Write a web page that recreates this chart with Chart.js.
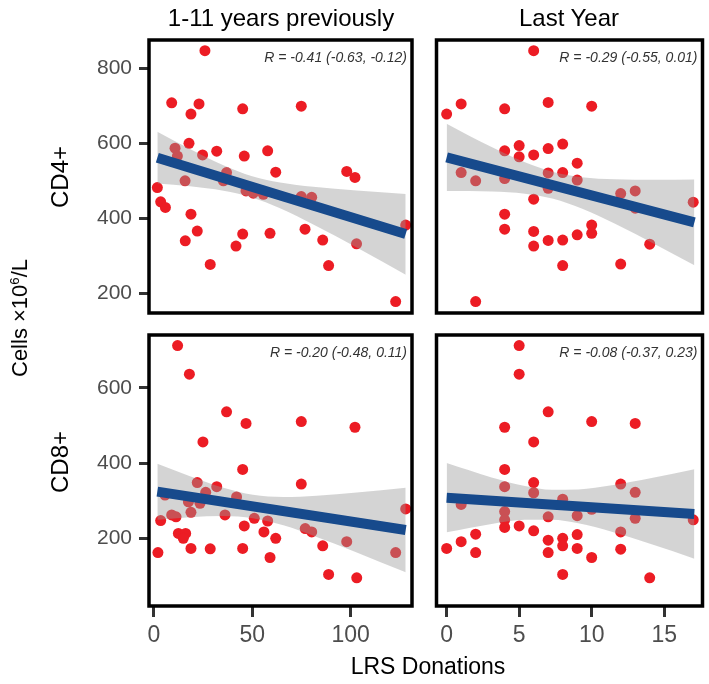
<!DOCTYPE html>
<html><head><meta charset="utf-8">
<script src="https://cdn.jsdelivr.net/npm/chart.js@4.4.1/dist/chart.umd.min.js"></script>
<style>
html,body{margin:0;padding:0;background:#fff;}
#wrap{position:relative;width:709px;height:684px;overflow:hidden;font-family:"Liberation Sans",Arial,sans-serif;}
canvas{position:absolute;left:0;top:0;}
.t{position:absolute;white-space:nowrap;color:#000;line-height:1;}
.t sup{font-size:0.6em;vertical-align:0.6em;line-height:0;}
</style></head><body>
<div id="wrap">
<canvas id="c0" width="709" height="684"></canvas>
<canvas id="c1" width="709" height="684"></canvas>
<canvas id="c2" width="709" height="684"></canvas>
<canvas id="c3" width="709" height="684"></canvas>
<div class="t" style="left:281px;top:18px;transform:translate(-50%,-50%);font-size:24px">1-11 years previously</div>
<div class="t" style="left:569px;top:18px;transform:translate(-50%,-50%);font-size:24px">Last Year</div>
<div class="t" style="left:60px;top:177px;transform:translate(-50%,-50%) rotate(-90deg);font-size:24px">CD4+</div>
<div class="t" style="left:60px;top:462px;transform:translate(-50%,-50%) rotate(-90deg);font-size:24px">CD8+</div>
<div class="t" style="left:20px;top:318px;transform:translate(-50%,-50%) rotate(-90deg);font-size:22px">Cells ×10<sup>6</sup>/L</div>
<div class="t" style="left:428px;top:666px;transform:translate(-50%,-50%);font-size:23px">LRS Donations</div>
</div>
<script>
// ---- tick labels ----
const xTicksPrev = [0, 50, 100];
const xTicksLast = [0, 5, 10, 15];
const yTicksCD4 = [200, 400, 600, 800];
const yTicksCD8 = [200, 400, 600];

// ---- CD4+, 1-11 years previously ----
const cd4PrevX = [25.9, 9.0, 22.9, 18.8, 45.1, 74.9, 17.8, 10.7, 11.9, 24.7, 31.9, 45.9, 57.8, 61.9, 36.9, 35.3, 15.8, 1.7, 3.4, 5.8, 18.8, 22.0, 15.9, 45.1, 41.7, 59.0, 28.6, 46.8, 50.5, 55.6, 74.9, 80.2, 98.0, 102.2, 76.8, 85.8, 88.8, 103.0, 128.0, 122.9];
const cd4PrevY = [847, 708, 705, 678, 692, 699, 600, 587, 566, 569, 579, 566, 580, 523, 522, 500, 500, 482, 444, 429, 411, 366, 340, 358, 326, 360, 277, 473, 467, 464, 458, 456, 525, 509, 371, 342, 274, 332, 382, 178];
const cd4PrevFitX = [1.7, 128.0];
const cd4PrevFitY = [561.7, 358.0];
const cd4PrevBandX = [1.7, 18.3, 35.3, 49.5, 64.1, 81.0, 103.1, 128.0];
const cd4PrevBandUp = [630.6, 584.7, 541.6, 513.1, 495.4, 484.0, 474.1, 464.8];
const cd4PrevBandLo = [492.8, 485.2, 473.5, 456.2, 426.8, 383.6, 322.5, 249.7];
const cd4PrevR = "R = -0.41 (-0.63, -0.12)";

// ---- CD4+, last year ----
const cd4LastX = [6, 1, 0, 4, 7, 10, 4, 5, 5, 6, 7, 8, 9, 1, 2, 4, 7, 8, 9, 7, 6, 12, 13, 13, 17, 4, 4, 6, 6, 7, 8, 9, 10, 10, 14, 8, 12, 2];
const cd4LastY = [847, 705, 678, 692, 709, 699, 580, 594, 564, 569, 586, 598, 547, 522, 500, 506, 521, 522, 502, 480, 451, 466, 473, 427, 443, 411, 371, 365, 326, 341, 342, 356, 382, 360, 331, 274, 278, 178];
const cd4LastFitX = [0, 17.08];
const cd4LastFitY = [562.6, 389.0];
const cd4LastBandX = [0, 3.10, 5.40, 7.35, 9.31, 11.61, 14.36, 17.08];
const cd4LastBandUp = [652.4, 589.9, 549.2, 523.2, 509.7, 504.0, 502.8, 503.5];
const cd4LastBandLo = [472.8, 471.5, 465.8, 452.1, 426.1, 385.2, 330.7, 275.0];
const cd4LastR = "R = -0.29 (-0.55, 0.01)";

// ---- CD8+, 1-11 years previously ----
const cd8PrevX = [12.0, 18.0, 36.9, 46.8, 74.9, 102.2, 24.9, 45.1, 74.9, 22.0, 31.9, 26.3, 42.0, 5.6, 17.5, 23.4, 18.8, 36.1, 51.0, 57.8, 9.0, 11.2, 3.4, 45.9, 55.9, 61.9, 12.4, 16.1, 14.9, 18.8, 28.6, 45.1, 2.0, 59.0, 76.9, 80.2, 85.8, 98.0, 88.8, 103.1, 128.0, 122.9];
const cd8PrevY = [712, 636, 536, 505, 510, 495, 456, 383, 344, 348, 337, 322, 310, 315, 297, 293, 269, 262, 253, 246, 262, 257, 247, 233, 217, 200, 213, 213, 200, 173, 172, 173, 162, 149, 226, 217, 180, 191, 104, 95, 278, 162];
const cd8PrevFitX = [1.7, 128.0];
const cd8PrevFitY = [323.9, 222.0];
const cd8PrevBandX = [1.7, 18.3, 35.3, 50.3, 65.8, 82.7, 103.1, 128.0];
const cd8PrevBandUp = [398.2, 364.8, 334.1, 315.6, 309.9, 313.3, 321.7, 334.5];
const cd8PrevBandLo = [249.5, 256.2, 259.4, 253.6, 234.4, 203.7, 162.5, 109.6];
const cd8PrevR = "R = -0.20 (-0.48, 0.11)";

// ---- CD8+, last year ----
const cd8LastX = [5, 5, 7, 10, 13, 4, 6, 4, 6, 12, 4, 6, 13, 8, 1, 4, 4, 7, 9, 10, 13, 17, 4, 5, 6, 2, 1, 0, 2, 7, 8, 8, 9, 9, 7, 10, 12, 12, 8, 14];
const cd8LastY = [712, 636, 536, 510, 505, 495, 456, 383, 348, 344, 337, 321, 322, 304, 290, 271, 249, 257, 260, 277, 253, 249, 229, 233, 220, 211, 191, 173, 162, 195, 200, 180, 210, 173, 162, 149, 217, 171, 104, 95];
const cd8LastFitX = [0, 17.07];
const cd8LastFitY = [307.9, 264.5];
const cd8LastBandX = [0, 3.10, 5.40, 7.26, 9.08, 11.38, 14.13, 17.08];
const cd8LastBandUp = [399.9, 361.8, 339.2, 329.3, 329.7, 340.6, 359.9, 383.2];
const cd8LastBandLo = [216.0, 238.2, 249.0, 249.6, 239.9, 217.4, 184.1, 146.0];
const cd8LastR = "R = -0.08 (-0.37, 0.23)";

const FONT = '"Liberation Sans", Arial, sans-serif';
const Y_AXIS_W = 70;
const X_AXIS_H = 45;

const boxPlugin = {
  id: 'box',
  afterDatasetsDraw(chart, args, opts) {
    const ctx = chart.ctx, a = chart.chartArea;
    ctx.save();
    ctx.strokeStyle = '#000';
    ctx.lineWidth = 3.5;
    ctx.strokeRect(a.left, a.top, a.right - a.left, a.bottom - a.top);
    if (opts.text) {
      ctx.font = 'italic 14px ' + FONT;
      ctx.fillStyle = '#333';
      ctx.textAlign = 'right';
      ctx.textBaseline = 'middle';
      ctx.fillText(opts.text, a.right - 5, a.top + 18);
    }
    ctx.restore();
  }
};

function toPts(xs, ys) { return xs.map((v, i) => ({x: v, y: ys[i]})); }

function axisStyle(ticksArr, isX, shown) {
  return {
    type: 'linear',
    display: shown,
    afterBuildTicks: s => { s.ticks = ticksArr.map(v => ({value: v})); },
    afterFit: s => { if (!shown) return; if (isX) s.height = X_AXIS_H; else s.width = Y_AXIS_W; },
    grid: {drawOnChartArea: false, drawTicks: true, tickLength: isX ? 11 : 10, lineWidth: 3, color: '#333'},
    border: {display: false},
    ticks: {padding: isX ? 5 : 7, color: '#4d4d4d', maxRotation: 0, autoSkip: false,
            font: {size: isX ? 23 : 21, family: FONT}}
  };
}

function makeChart(id, c) {
  const xScale = Object.assign(axisStyle(c.xTicks, true, c.showX), {min: c.xMin, max: c.xMax});
  const yScale = Object.assign(axisStyle(c.yTicks, false, c.showY), {min: c.yMin, max: c.yMax, position: 'left'});
  new Chart(document.getElementById(id), {
    type: 'scatter',
    data: {datasets: [
      {type: 'line', data: toPts(c.fitX, c.fitY), borderColor: '#174a8c', borderWidth: 10, pointRadius: 0, fill: false, order: 1, borderCapStyle: 'butt'},
      {type: 'line', data: toPts(c.bandX, c.bandUp), borderWidth: 0, borderColor: 'rgba(0,0,0,0)', backgroundColor: 'rgba(153,153,153,0.42)', pointRadius: 0, fill: '+1', order: 2, cubicInterpolationMode: 'monotone'},
      {type: 'line', data: toPts(c.bandX, c.bandLo), borderWidth: 0, borderColor: 'rgba(0,0,0,0)', pointRadius: 0, fill: false, order: 2, cubicInterpolationMode: 'monotone'},
      {data: toPts(c.x, c.y), backgroundColor: '#ec1c24', borderWidth: 0, pointRadius: 5.5, order: 3}
    ]},
    options: {
      responsive: false, animation: false, events: [],
      layout: {padding: c.pad},
      plugins: {legend: {display: false}, tooltip: {enabled: false}, box: {text: c.r}},
      scales: {x: xScale, y: yScale}
    },
    plugins: [boxPlugin]
  });
}

// chart areas: left panels x 149..412, right panels x 436.5..702.5; top y 40..313, bottom y 335..606
const padTL = {left: 149 - Y_AXIS_W, right: 709 - 412, top: 40, bottom: 684 - 313};
const padTR = {left: 436.5, right: 709 - 702.5, top: 40, bottom: 684 - 313};
const padBL = {left: 149 - Y_AXIS_W, right: 709 - 412, top: 335, bottom: 684 - 606 - X_AXIS_H};
const padBR = {left: 436.5, right: 709 - 702.5, top: 335, bottom: 684 - 606 - X_AXIS_H};

makeChart('c0', {x: cd4PrevX, y: cd4PrevY, fitX: cd4PrevFitX, fitY: cd4PrevFitY, bandX: cd4PrevBandX, bandUp: cd4PrevBandUp, bandLo: cd4PrevBandLo, r: cd4PrevR,
  xTicks: xTicksPrev, yTicks: yTicksCD4, xMin: -2.54, xMax: 131.2, yMin: 147.5, yMax: 875.5, showX: false, showY: true, pad: padTL});
makeChart('c1', {x: cd4LastX, y: cd4LastY, fitX: cd4LastFitX, fitY: cd4LastFitY, bandX: cd4LastBandX, bandUp: cd4LastBandUp, bandLo: cd4LastBandLo, r: cd4LastR,
  xTicks: xTicksLast, yTicks: yTicksCD4, xMin: -0.70, xMax: 17.64, yMin: 147.5, yMax: 875.5, showX: false, showY: false, pad: padTR});
makeChart('c2', {x: cd8PrevX, y: cd8PrevY, fitX: cd8PrevFitX, fitY: cd8PrevFitY, bandX: cd8PrevBandX, bandUp: cd8PrevBandUp, bandLo: cd8PrevBandLo, r: cd8PrevR,
  xTicks: xTicksPrev, yTicks: yTicksCD8, xMin: -2.54, xMax: 131.2, yMin: 20.2, yMax: 740, showX: true, showY: true, pad: padBL});
makeChart('c3', {x: cd8LastX, y: cd8LastY, fitX: cd8LastFitX, fitY: cd8LastFitY, bandX: cd8LastBandX, bandUp: cd8LastBandUp, bandLo: cd8LastBandLo, r: cd8LastR,
  xTicks: xTicksLast, yTicks: yTicksCD8, xMin: -0.70, xMax: 17.64, yMin: 20.2, yMax: 740, showX: true, showY: false, pad: padBR});
</script>
</body></html>
